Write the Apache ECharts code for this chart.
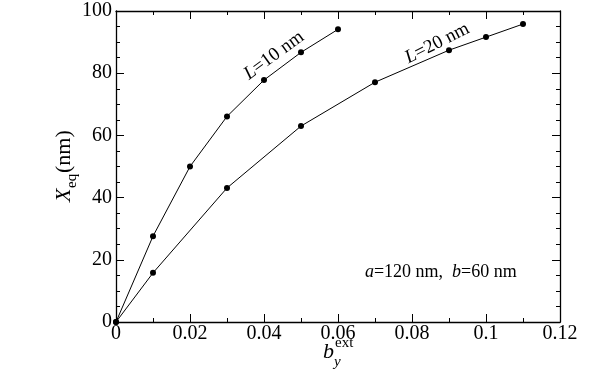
<!DOCTYPE html>
<html>
<head>
<meta charset="utf-8">
<script src="https://cdn.jsdelivr.net/npm/echarts@6/dist/echarts.min.js"></script>
<style>
  html, body { margin: 0; padding: 0; background: #fff; }
  #chart { width: 595px; height: 379px; }
</style>
</head>
<body>
<div id="chart"></div>
<script>
// values
const bL10 = [0, 0.01, 0.02, 0.03, 0.04, 0.05, 0.06];
const xL10 = [0, 27.6, 50, 66.1, 77.8, 86.7, 94.1];
const bL20 = [0, 0.01, 0.03, 0.05, 0.07, 0.09, 0.1, 0.11];
const xL20 = [0, 15.8, 43.1, 63.0, 77.1, 87.4, 91.6, 95.8];

const FONT = 'Liberation Serif';

function pairs (xs, ys) {
  return xs.map((x, i) => [x, ys[i]]);
}

const axisCommon = {
  axisLine: { onZero: false, lineStyle: { color: '#000', width: 1.3 } },
  axisTick: { inside: true, length: 8, lineStyle: { color: '#000' } },
  minorTick: { show: true, length: 4, lineStyle: { color: '#000' } },
  splitLine: { show: false },
  minorSplitLine: { show: false }
};

const lineSeries = (name, data) => ({
  name: name,
  type: 'line',
  data: data,
  symbol: 'circle',
  symbolSize: 6,
  itemStyle: { color: '#000' },
  lineStyle: { color: '#000', width: 1 },
  animation: false
});

const chart = echarts.init(document.getElementById('chart'));
chart.setOption({
  animation: false,
  grid: { left: 116, right: 35, top: 11, bottom: 57, containLabel: false },
  xAxis: [
    Object.assign({}, axisCommon, {
      type: 'value', min: 0, max: 0.12, interval: 0.02, position: 'bottom',
      minorTick: Object.assign({}, axisCommon.minorTick, { splitNumber: 2 }),
      axisLabel: { color: '#000', fontFamily: FONT, fontSize: 20, margin: 2 }
    }),
    Object.assign({}, axisCommon, {
      type: 'value', min: 0, max: 0.12, interval: 0.02, position: 'top',
      minorTick: Object.assign({}, axisCommon.minorTick, { splitNumber: 2 }),
      axisLabel: { show: false }
    })
  ],
  yAxis: [
    Object.assign({}, axisCommon, {
      type: 'value', min: 0, max: 100, interval: 20, position: 'left',
      minorTick: Object.assign({}, axisCommon.minorTick, { splitNumber: 4 }),
      axisLabel: { color: '#000', fontFamily: FONT, fontSize: 20, margin: 4 }
    }),
    Object.assign({}, axisCommon, {
      type: 'value', min: 0, max: 100, interval: 20, position: 'right',
      minorTick: Object.assign({}, axisCommon.minorTick, { splitNumber: 4 }),
      axisLabel: { show: false }
    })
  ],
  series: [
    lineSeries('L=10 nm', pairs(bL10, xL10)),
    lineSeries('L=20 nm', pairs(bL20, xL20))
  ]
});

// text labels placed from data coordinates
const p10 = chart.convertToPixel({ gridIndex: 0 }, [0.0427, 85.7]);
const p20 = chart.convertToPixel({ gridIndex: 0 }, [0.0868, 89.6]);
const pab = chart.convertToPixel({ gridIndex: 0 }, [0.0878, 16]);
const deg = Math.PI / 180;

const tilted = (pos, angle, txt) => ({
  type: 'group', position: pos, rotation: angle * deg,
  children: [{
    type: 'text',
    style: {
      text: txt, x: 0, y: 0, align: 'center', verticalAlign: 'middle',
      font: '19px ' + FONT, fill: '#000',
      rich: { i: { fontStyle: 'italic', fontFamily: FONT, fontSize: 19 } }
    }
  }]
});

chart.setOption({
  graphic: [
    tilted(p10, 36, '{i|L}=10 nm'),
    tilted(p20, 27, '{i|L}=20 nm'),
    {
      type: 'text', position: pab,
      style: {
        text: '{i|a}=120 nm,  {i|b}=60 nm', x: 0, y: 0, align: 'center', verticalAlign: 'middle',
        font: '18px ' + FONT, fill: '#000',
        rich: { i: { fontStyle: 'italic', fontFamily: FONT, fontSize: 18 } }
      }
    },
    // y axis title X_eq(nm)
    {
      type: 'group', position: [64, 166], rotation: 90 * deg,
      children: [
        { type: 'text', style: { text: 'X', x: -36, y: 0, verticalAlign: 'middle', font: 'italic 22px ' + FONT, fill: '#000' } },
        { type: 'text', style: { text: 'eq', x: -22, y: 8, verticalAlign: 'middle', font: '15px ' + FONT, fill: '#000' } },
        { type: 'text', style: { text: '(nm)', x: -7, y: 0, verticalAlign: 'middle', font: '22px ' + FONT, fill: '#000' } }
      ]
    },
    // x axis title b_y^ext
    { type: 'text', style: { text: 'b', x: 323, y: 352, verticalAlign: 'middle', font: 'italic 22px ' + FONT, fill: '#000' } },
    { type: 'text', style: { text: 'ext', x: 335, y: 343, verticalAlign: 'middle', font: '15px ' + FONT, fill: '#000' } },
    { type: 'text', style: { text: 'y', x: 334, y: 362, verticalAlign: 'middle', font: 'italic 15px ' + FONT, fill: '#000' } }
  ]
});

window.addEventListener('resize', () => {
  chart.resize();
});
</script>
</body>
</html>
